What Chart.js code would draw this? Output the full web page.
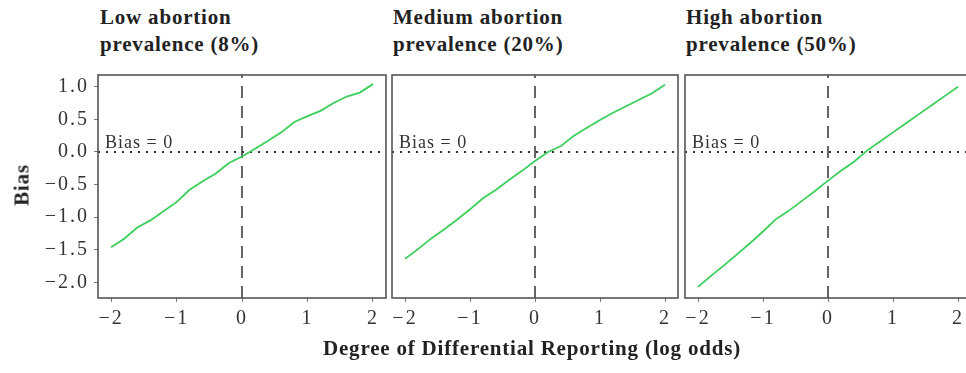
<!DOCTYPE html>
<html>
<head>
<meta charset="utf-8">
<script src="https://cdn.jsdelivr.net/npm/chart.js@4.4.0/dist/chart.umd.min.js"></script>
<style>
    html, body { margin: 0; padding: 0; background: #fff; }
    body { width: 966px; height: 373px; position: relative; overflow: hidden; font-family: 'Liberation Serif', 'DejaVu Serif', serif; }
    canvas { position: absolute; }
    .title { position: absolute; font-weight: bold; font-size: 21px; letter-spacing: 0.8px; line-height: 27px; color: #222; white-space: nowrap; }
    .xlabel { position: absolute; left: 532px; top: 335px; transform: translateX(-50%); font-weight: bold; font-size: 21px; letter-spacing: 0.8px; line-height: 27px; color: #222; white-space: nowrap; }
    .ylabel { position: absolute; left: 22px; top: 185px; transform: translate(-50%, -50%) rotate(-90deg); font-weight: bold; font-size: 21px; letter-spacing: 0.8px; color: #222; white-space: nowrap; }
</style>
</head>
<body>
<div class="title" id="t1" style="left:100px; top:4px;"></div>
<div class="title" id="t2" style="left:393px; top:4px;"></div>
<div class="title" id="t3" style="left:686px; top:4px;"></div>
<canvas id="lowChart" width="390" height="275" style="left:0px; top:65px;"></canvas>
<canvas id="mediumChart" width="294" height="275" style="left:388px; top:65px;"></canvas>
<canvas id="highChart" width="294" height="275" style="left:681px; top:65px;"></canvas>
<div class="xlabel">Degree of Differential Reporting (log odds)</div>
<div class="ylabel">Bias</div>
<script>
// degree of differential reporting (log odds)
const xValues = [-2, -1.8, -1.6, -1.4, -1.2, -1, -0.8, -0.6, -0.4, -0.2, 0, 0.2, 0.4, 0.6, 0.8, 1, 1.2, 1.4, 1.6, 1.8, 2];

// bias for each prevalence level
const lowBias = [-1.46, -1.33, -1.16, -1.05, -0.91, -0.77, -0.58, -0.45, -0.33, -0.17, -0.07, 0.05, 0.17, 0.30, 0.46, 0.55, 0.63, 0.75, 0.85, 0.91, 1.04];
const mediumBias = [-1.64, -1.49, -1.33, -1.19, -1.04, -0.88, -0.71, -0.58, -0.43, -0.29, -0.14, 0.00, 0.09, 0.25, 0.37, 0.49, 0.60, 0.70, 0.80, 0.90, 1.03];
const highBias = [-2.07, -1.90, -1.74, -1.57, -1.40, -1.22, -1.03, -0.90, -0.75, -0.60, -0.44, -0.29, -0.15, 0.02, 0.16, 0.30, 0.44, 0.58, 0.72, 0.86, 1.00];

const panelTitles = [
    ['Low abortion', 'prevalence (8%)'],
    ['Medium abortion', 'prevalence (20%)'],
    ['High abortion', 'prevalence (50%)']
];

const xTicks = [-2, -1, 0, 1, 2];
const yTicks = [-2, -1.5, -1, -0.5, 0, 0.5, 1];
const xRange = [-2.2, 2.2];
const yRange = [-2.24, 1.18];

// reference lines
const refX = 0;
const refY = 0;
const refLabel = 'Bias = 0';

const minus = v => String(v).replace('-', '\u2212');

// box around the plot region + "Bias = 0" note
const frame = {
    id: 'frame',
    beforeDraw(chart) {
        chart.ctx.letterSpacing = '2px';
    },
    afterDatasetsDraw(chart) {
        const { ctx, chartArea: a, scales: { x, y } } = chart;
        ctx.save();
        ctx.strokeStyle = '#555';
        ctx.lineWidth = 1.6;
        ctx.strokeRect(a.left, a.top, a.right - a.left, a.bottom - a.top);
        ctx.letterSpacing = '1px';
        ctx.font = '18px "Liberation Serif", serif';
        ctx.fillStyle = '#333';
        ctx.textBaseline = 'alphabetic';
        ctx.fillText(refLabel, x.getPixelForValue(xRange[0]) + 7, y.getPixelForValue(refY) - 4);
        ctx.restore();
    }
};

function makePanel(id, series, showY) {
    const el = document.getElementById(id);
    return new Chart(el, {
        type: 'line',
        data: {
            datasets: [{
                data: xValues.map((x, i) => ({ x: x, y: series[i] })),
                borderColor: '#3ccf5a',
                borderWidth: 1.8,
                pointRadius: 0,
                tension: 0,
                order: 0
            }, {
                data: [{ x: refX, y: yRange[0] }, { x: refX, y: yRange[1] }],
                borderColor: '#333',
                borderWidth: 1.5,
                borderDash: [12, 8],
                pointRadius: 0,
                order: 1
            }, {
                data: [{ x: xRange[0], y: refY }, { x: xRange[1], y: refY }],
                borderColor: '#333',
                borderWidth: 2,
                borderDash: [2, 6],
                pointRadius: 0,
                order: 1
            }]
        },
        options: {
            responsive: false,
            animation: false,
            layout: { padding: { left: showY ? 0 : 4, right: 4, top: 10, bottom: 0 } },
            plugins: { legend: { display: false }, tooltip: { enabled: false } },
            scales: {
                x: {
                    type: 'linear',
                    min: xRange[0],
                    max: xRange[1],
                    afterBuildTicks: s => { s.ticks = xTicks.map(v => ({ value: v })); },
                    afterFit: s => { s.height = 42; s.paddingLeft = 0; s.paddingRight = 0; },
                    grid: { drawOnChartArea: false, drawTicks: true, tickLength: 4, tickColor: '#777' },
                    border: { display: false },
                    ticks: {
                        color: '#333',
                        padding: 5,
                        maxRotation: 0,
                        font: { family: 'Liberation Serif', size: 20 },
                        callback: v => minus(v)
                    }
                },
                y: {
                    display: showY,
                    min: yRange[0],
                    max: yRange[1],
                    afterBuildTicks: s => { s.ticks = yTicks.map(v => ({ value: v })); },
                    afterFit: s => { s.width = showY ? 98 : 0; s.paddingTop = 0; s.paddingBottom = 0; },
                    grid: { drawOnChartArea: false, drawTicks: true, tickLength: 4, tickColor: '#777' },
                    border: { display: false },
                    ticks: {
                        color: '#333',
                        padding: 5,
                        font: { family: 'Liberation Serif', size: 20 },
                        callback: v => minus(v.toFixed(1))
                    }
                }
            }
        },
        plugins: [frame]
    });
}

document.addEventListener('DOMContentLoaded', () => {
    ['t1', 't2', 't3'].forEach((id, i) => {
        document.getElementById(id).innerHTML = panelTitles[i].join('<br>');
    });
    makePanel('lowChart', lowBias, true);
    makePanel('mediumChart', mediumBias, false);
    makePanel('highChart', highBias, false);
});
</script>
</body>
</html>
